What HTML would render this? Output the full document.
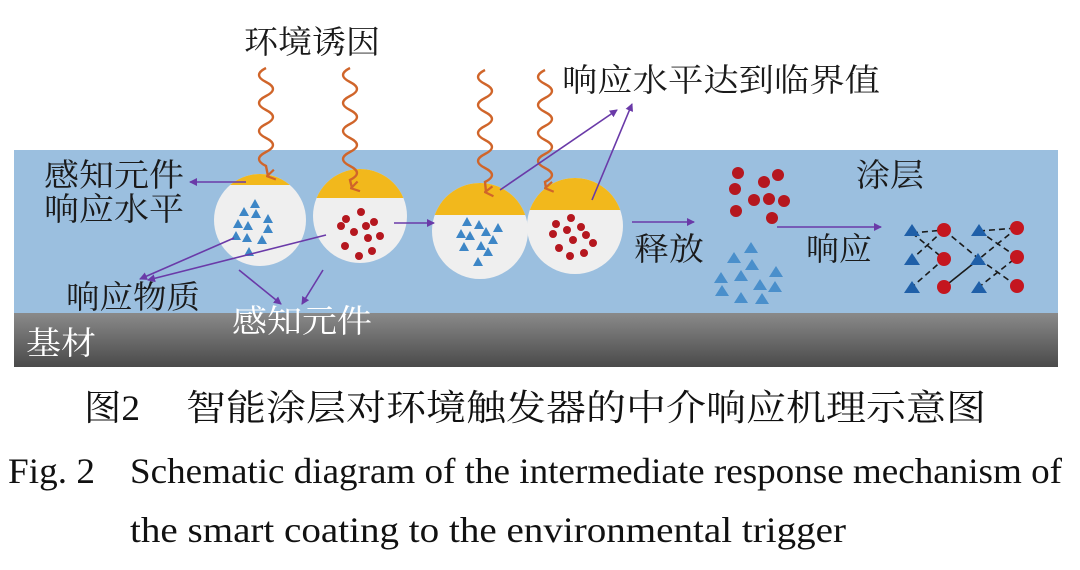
<!DOCTYPE html>
<html><head><meta charset="utf-8"><style>
html,body{margin:0;padding:0;background:#fff;}
svg{display:block;}
.cn{font-family:"Liberation Serif","Noto Serif CJK SC",serif;}
</style></head><body>
<svg width="1080" height="570" viewBox="0 0 1080 570" xmlns="http://www.w3.org/2000/svg">
<defs>
<linearGradient id="g" x1="0" y1="0" x2="0" y2="1"><stop offset="0" stop-color="#8a8a8a"/><stop offset="1" stop-color="#4a4a4a"/></linearGradient>
<marker id="pa" markerWidth="8" markerHeight="8" refX="7" refY="4" orient="auto" markerUnits="userSpaceOnUse"><path d="M0,0 L8,4 L0,8 z" fill="#6a3aa8"/></marker>
<marker id="oa" markerWidth="12" markerHeight="10" refX="6" refY="8" orient="auto" markerUnits="userSpaceOnUse"><path d="M1,1 L6,9 L11,1" fill="none" stroke="#d0652a" stroke-width="2.2"/></marker>
<clipPath id="c1"><circle cx="260" cy="220" r="46"/></clipPath>
<clipPath id="c2"><circle cx="360" cy="216" r="47"/></clipPath>
<clipPath id="c3"><circle cx="480" cy="231" r="48"/></clipPath>
<clipPath id="c4"><circle cx="575" cy="226" r="48"/></clipPath>
<g id="tri"><path d="M0,-5 L5,4 L-5,4 z" fill="#3d86c6"/></g>
<g id="dot"><circle r="4" fill="#b5171f"/></g>
</defs>
<rect x="14" y="150" width="1044" height="164" fill="#9bbfdf"/>
<rect x="14" y="313" width="1044" height="54" fill="url(#g)"/>

<g clip-path="url(#c1)"><rect x="200" y="160" width="120" height="120" fill="#efefef"/><rect x="200" y="160" width="120" height="25" fill="#f2b81c"/></g>
<g clip-path="url(#c2)"><rect x="300" y="160" width="120" height="120" fill="#efefef"/><rect x="300" y="160" width="120" height="38" fill="#f2b81c"/></g>
<g clip-path="url(#c3)"><rect x="420" y="170" width="120" height="120" fill="#efefef"/><rect x="420" y="170" width="120" height="45" fill="#f2b81c"/></g>
<g clip-path="url(#c4)"><rect x="520" y="170" width="120" height="120" fill="#efefef"/><rect x="520" y="170" width="120" height="40" fill="#f2b81c"/></g>

<use href="#tri" x="255" y="204"/><use href="#tri" x="244" y="212"/><use href="#tri" x="256" y="214"/><use href="#tri" x="268" y="219"/>
<use href="#tri" x="238" y="224"/><use href="#tri" x="248" y="226"/><use href="#tri" x="268" y="229"/><use href="#tri" x="236" y="236"/><use href="#tri" x="247" y="238"/><use href="#tri" x="262" y="240"/><use href="#tri" x="249" y="252"/>
<use href="#dot" x="346" y="219"/><use href="#dot" x="361" y="212"/><use href="#dot" x="341" y="226"/><use href="#dot" x="354" y="232"/><use href="#dot" x="366" y="226"/><use href="#dot" x="374" y="222"/><use href="#dot" x="380" y="236"/><use href="#dot" x="368" y="238"/><use href="#dot" x="345" y="246"/><use href="#dot" x="359" y="256"/><use href="#dot" x="372" y="251"/>
<use href="#tri" x="467" y="222"/><use href="#tri" x="479" y="225"/><use href="#tri" x="486" y="232"/><use href="#tri" x="498" y="228"/><use href="#tri" x="461" y="234"/><use href="#tri" x="470" y="236"/><use href="#tri" x="493" y="240"/><use href="#tri" x="481" y="246"/><use href="#tri" x="464" y="247"/><use href="#tri" x="488" y="252"/><use href="#tri" x="478" y="262"/>
<use href="#dot" x="571" y="218"/><use href="#dot" x="556" y="224"/><use href="#dot" x="567" y="230"/><use href="#dot" x="581" y="227"/><use href="#dot" x="553" y="234"/><use href="#dot" x="573" y="240"/><use href="#dot" x="586" y="235"/><use href="#dot" x="559" y="248"/><use href="#dot" x="570" y="256"/><use href="#dot" x="584" y="253"/><use href="#dot" x="593" y="243"/>

<g fill="none" stroke="#d0652a" stroke-width="2.4" marker-end="url(#oa)">
<path d="M266,68 q-14,7 0,14 t0,14 t0,14 t0,14 t0,14 t0,14 t0,14 l2,10"/>
<path d="M350,68 q-14,7 0,14 t0,14 t0,14 t0,14 t0,14 t0,14 t0,14 t0,14 l2,8"/>
<path d="M485,70 q-14,7 0,14 t0,14 t0,14 t0,14 t0,14 t0,14 t0,14 t0,14 l1,10"/>
<path d="M545,70 q-14,7 0,14 t0,14 t0,14 t0,14 t0,14 t0,14 t0,14 t0,14 l1,6"/>
</g>

<g stroke="#6a3aa8" stroke-width="1.6" fill="none" marker-end="url(#pa)">
<line x1="246" y1="182" x2="190" y2="182"/>
<line x1="234" y1="238" x2="140" y2="279"/>
<line x1="326" y1="235" x2="148" y2="280"/>
<line x1="239" y1="270" x2="281" y2="304"/>
<line x1="323" y1="270" x2="302" y2="304"/>
<line x1="394" y1="223" x2="434" y2="223"/>
<line x1="500" y1="190" x2="617" y2="110"/>
<line x1="592" y1="200" x2="632" y2="104"/>
<line x1="632" y1="222" x2="694" y2="222"/>
<line x1="777" y1="227" x2="881" y2="227"/>
</g>

<g fill="#b5171f">
<circle cx="738" cy="173" r="6"/><circle cx="764" cy="182" r="6"/><circle cx="778" cy="175" r="6"/><circle cx="735" cy="189" r="6"/><circle cx="769" cy="199" r="6"/><circle cx="754" cy="200" r="6"/><circle cx="784" cy="201" r="6"/><circle cx="736" cy="211" r="6"/><circle cx="772" cy="218" r="6"/>
</g>
<g fill="#4a8fcb">
<path d="M751,242 l7,11 h-14z"/><path d="M734,252 l7,11 h-14z"/><path d="M752,259 l7,11 h-14z"/><path d="M776,266 l7,11 h-14z"/><path d="M721,272 l7,11 h-14z"/><path d="M741,270 l7,11 h-14z"/><path d="M760,279 l7,11 h-14z"/><path d="M775,281 l7,11 h-14z"/><path d="M722,285 l7,11 h-14z"/><path d="M741,292 l7,11 h-14z"/><path d="M762,293 l7,11 h-14z"/>
</g>

<g stroke="#1a1a1a" stroke-width="1.6" stroke-dasharray="6,4" fill="none">
<path d="M912,233 L944,259 L912,287 M944,230 L979,259 L944,287 M979,231 L1017,257 L979,287 M944,230 L912,259 M944,287 L979,259 M979,231 L1017,228 M1017,228 L979,259 M979,259 L1017,286 M912,233 L944,230"/>
</g>
<g fill="#1f5fa8">
<path d="M912,224 l8,12 h-16z"/><path d="M979,224 l8,12 h-16z"/><path d="M912,253 l8,12 h-16z"/><path d="M978,253 l8,12 h-16z"/><path d="M912,281 l8,12 h-16z"/><path d="M979,281 l8,12 h-16z"/>
</g>
<g fill="#c4161f">
<circle cx="944" cy="230" r="7"/><circle cx="1017" cy="228" r="7"/><circle cx="944" cy="259" r="7"/><circle cx="1017" cy="257" r="7"/><circle cx="944" cy="287" r="7"/><circle cx="1017" cy="286" r="7"/>
</g>

<g class="cn" font-size="32" fill="#1a1a1a">
<text x="244" y="53" textLength="136" lengthAdjust="spacingAndGlyphs">环境诱因</text>
<text x="562" y="91" textLength="318" lengthAdjust="spacingAndGlyphs">响应水平达到临界值</text>
<text x="44" y="186" textLength="140" lengthAdjust="spacingAndGlyphs">感知元件</text>
<text x="44" y="220" textLength="140" lengthAdjust="spacingAndGlyphs">响应水平</text>
<text x="66" y="308" textLength="134" lengthAdjust="spacingAndGlyphs">响应物质</text>
<text x="634" y="260" textLength="70" lengthAdjust="spacingAndGlyphs">释放</text>
<text x="806" y="260" textLength="66" lengthAdjust="spacingAndGlyphs">响应</text>
<text x="856" y="186" textLength="68" lengthAdjust="spacingAndGlyphs">涂层</text>
<text x="232" y="332" fill="#fff" textLength="140" lengthAdjust="spacingAndGlyphs">感知元件</text>
<text x="26" y="354" fill="#fff" textLength="70" lengthAdjust="spacingAndGlyphs">基材</text>
</g>

<g class="cn" fill="#111">
<text x="84" y="420" font-size="36" textLength="56" lengthAdjust="spacingAndGlyphs">图2</text>
<text x="186" y="420" font-size="36" textLength="800" lengthAdjust="spacingAndGlyphs">智能涂层对环境触发器的中介响应机理示意图</text>
<text x="8" y="483" font-size="36" textLength="87" lengthAdjust="spacingAndGlyphs">Fig. 2</text>
<text x="130" y="483" font-size="36" textLength="932" lengthAdjust="spacingAndGlyphs">Schematic diagram of the intermediate response mechanism of</text>
<text x="130" y="542" font-size="36" textLength="716" lengthAdjust="spacingAndGlyphs">the smart coating to the environmental trigger</text>
</g>
</svg>
</body></html>
